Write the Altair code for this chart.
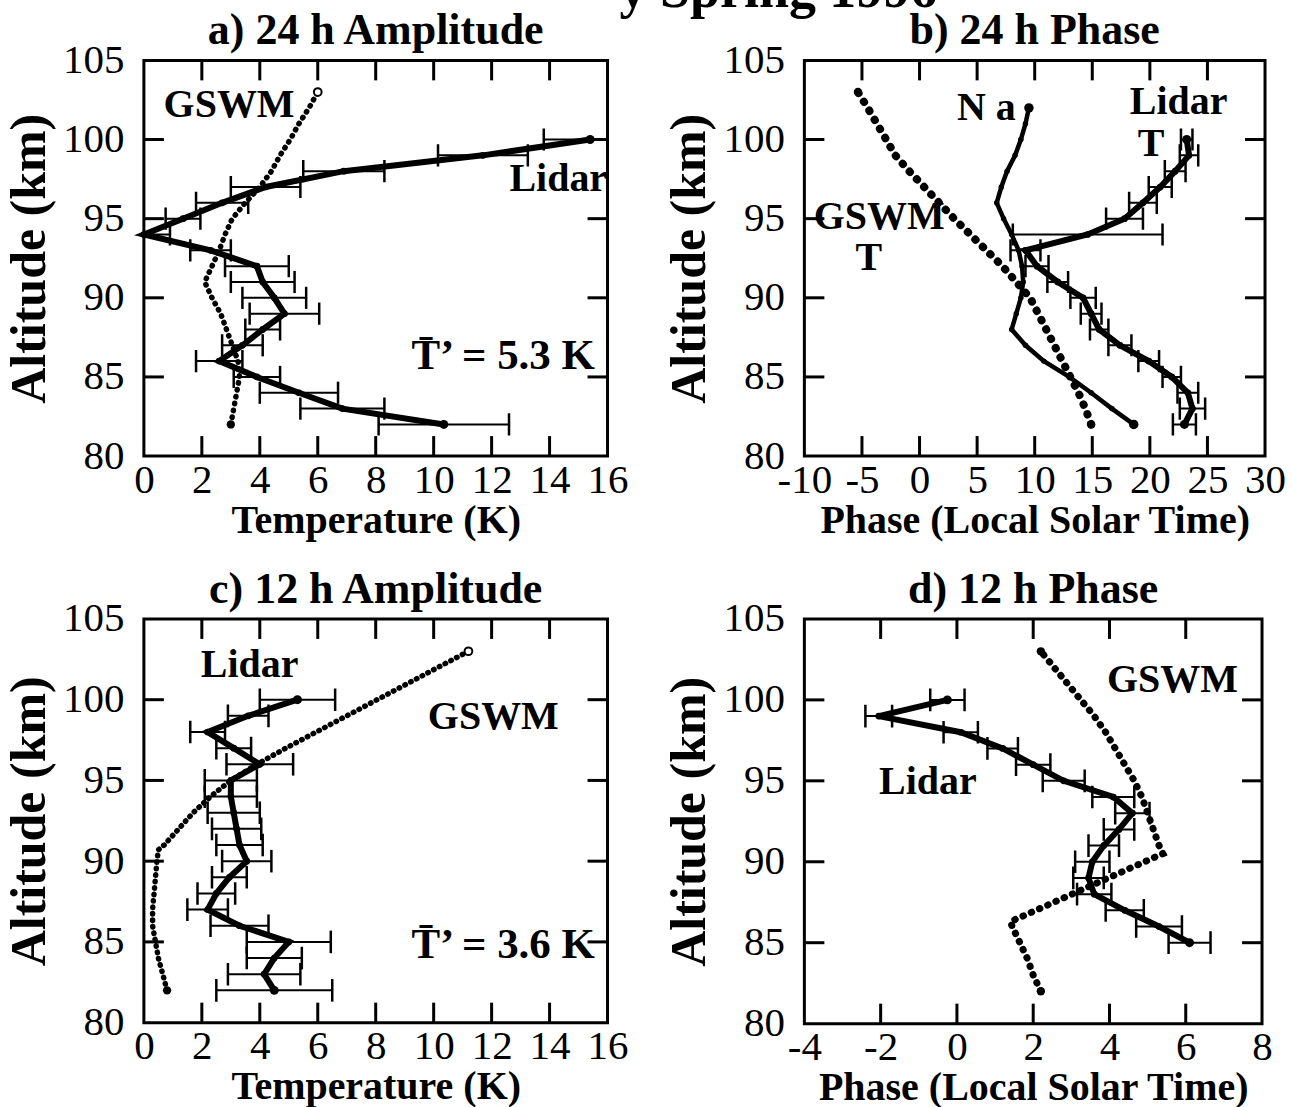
import altair as alt
import pandas as pd

FONT = "Liberation Serif"

# ---------------- a) 24 h amplitude (K) ----------------
A_GSWM_ALT = [82, 83, 84, 85, 86, 87, 88, 89, 90, 91, 92, 93, 94, 95, 96, 97, 98, 99, 100, 101, 102, 103]
A_GSWM_T = [3.0, 3.1, 3.2, 3.3, 3.25, 3.05, 2.85, 2.65, 2.35, 2.1, 2.35, 2.6, 2.8, 3.05, 3.5, 4.0, 4.4, 4.7, 5.05, 5.35, 5.7, 6.0]
A_LID_ALT = list(range(82, 101))
A_LID_T = [10.35, 6.85, 5.35, 3.9, 2.6, 3.4, 4.1, 4.85, 4.5, 4.1, 3.9, 2.3, 0.0, 1.35, 2.7, 4.2, 6.9, 11.7, 15.4]
A_LID_ERR = [2.25, 1.45, 1.35, 0.8, 0.8, 0.7, 0.6, 1.2, 1.1, 1.1, 1.1, 0.7, 0.9, 0.6, 0.9, 1.2, 1.4, 1.55, 1.6]

# ---------------- b) 24 h phase (local solar time) ----------------
B_GSWM_ALT = list(range(82, 104))
B_GSWM_PH = [14.9, 14.4, 13.8, 13.1, 12.4, 11.7, 11.0, 10.3, 9.6, 8.4, 7.2, 5.8, 4.4, 3.0, 1.7, 0.4, -0.9, -2.1, -2.9, -3.7, -4.5, -5.35]
B_NA_ALT = list(range(82, 103))
B_NA_PH = [18.6, 16.7, 14.9, 13.0, 10.8, 9.2, 8.0, 8.4, 8.8, 9.0, 8.9, 8.6, 8.0, 7.3, 6.7, 7.1, 7.6, 8.3, 8.8, 9.2, 9.5]
B_LID_ALT = list(range(82, 101))
B_LID_PH = [23.0, 23.7, 23.3, 21.9, 19.9, 17.4, 15.6, 14.9, 14.2, 12.0, 10.2, 9.2, 14.6, 17.8, 19.4, 20.9, 22.2, 23.4, 23.2]
B_LID_ERR = [1.0, 1.1, 0.9, 0.8, 0.9, 1.0, 0.8, 0.9, 1.1, 0.9, 1.0, 1.3, 6.5, 1.6, 1.2, 1.0, 0.9, 0.8, 0.5]

# ---------------- c) 12 h amplitude (K) ----------------
C_GSWM_ALT = [82, 83, 84, 85, 86, 87, 88, 89, 90, 90.7, 91, 92, 93, 94, 95, 96, 97, 98, 99, 100, 101, 102, 103]
C_GSWM_T = [0.8, 0.65, 0.5, 0.4, 0.3, 0.3, 0.35, 0.4, 0.45, 0.5, 0.7, 1.2, 1.7, 2.3, 3.0, 3.9, 4.9, 5.95, 7.0, 8.05, 9.1, 10.15, 11.2]
C_LID_ALT = list(range(82, 101))
C_LID_T = [4.5, 4.15, 4.5, 5.0, 3.3, 2.2, 2.5, 2.95, 3.55, 3.3, 3.2, 3.1, 3.0, 3.0, 4.0, 3.1, 2.2, 3.6, 5.3]
C_LID_ERR = [2.0, 1.25, 0.95, 1.45, 1.0, 0.7, 0.65, 0.6, 0.85, 0.8, 0.85, 0.9, 0.9, 0.9, 1.15, 0.6, 0.6, 0.7, 1.3]

# ---------------- d) 12 h phase (local solar time) ----------------
D_GSWM_ALT = [82, 83, 84, 85, 86, 86.3, 87, 88, 89, 90, 90.5, 91, 92, 93, 94, 95, 96, 97, 98, 99, 100, 101, 102, 103]
D_GSWM_PH = [2.2, 2.0, 1.85, 1.65, 1.45, 1.4, 2.07, 3.02, 3.97, 4.92, 5.4, 5.3, 5.15, 5.0, 4.85, 4.65, 4.4, 4.15, 3.9, 3.6, 3.25, 2.9, 2.55, 2.2]
D_LID_ALT = list(range(85, 101))
D_LID_PH = [6.1, 5.3, 4.4, 3.6, 3.45, 3.55, 3.85, 4.25, 4.6, 4.1, 2.8, 2.0, 1.2, 0.1, -2.05, -0.25]
D_LID_ERR = [0.55, 0.6, 0.5, 0.45, 0.4, 0.45, 0.4, 0.4, 0.45, 0.55, 0.55, 0.45, 0.4, 0.45, 0.35, 0.45]

ALT_TICKS = [80, 85, 90, 95, 100, 105]
TEMP_TICKS = [0, 2, 4, 6, 8, 10, 12, 14, 16]
PH24_TICKS = [-10, -5, 0, 5, 10, 15, 20, 25, 30]
PH12_TICKS = [-4, -2, 0, 2, 4, 6, 8]

SUPTITLE = "y Spring 1996"

CAP = 0.7  # half-height of the error-bar caps, km
TICK_LEN = 20


def profile(alt_vals, x_vals, err=None):
    df = pd.DataFrame({"alt": alt_vals, "x": x_vals})
    if err is not None:
        df["lo"] = df["x"] - pd.Series(err)
        df["hi"] = df["x"] + pd.Series(err)
        df["c0"] = df["alt"] - CAP
        df["c1"] = df["alt"] + CAP
    return df


def panel(title, xdom, xticks, xtitle, w, h, lidar, dotted, solid=None,
          labels=(), dot_dash=(0.5, 7), dot_width=5, open_top=False):
    xs = alt.Scale(domain=xdom, nice=False, zero=False)
    ys = alt.Scale(domain=[80, 105], nice=False, zero=False)
    # plain hyphen for negative tick labels
    x_axis = alt.Axis(values=xticks, title=xtitle, labelPadding=4, titlePadding=0,
                      labelFlush=False, labelOverlap=False, labelExpr="'' + datum.value")
    y_axis = alt.Axis(values=ALT_TICKS, title="Altitude (km)", labelPadding=20,
                      titlePadding=8, titleFontSize=50, labelFlush=False, labelOverlap=False)

    def X(f, **kw):
        return alt.X(f, type="quantitative", scale=xs, axis=x_axis, **kw)

    def Y(f, **kw):
        return alt.Y(f, type="quantitative", scale=ys, axis=y_axis, **kw)

    layers = []

    # model curve drawn as a chain of dots
    layers.append(alt.Chart(dotted).mark_line(
        color="black", strokeWidth=dot_width, strokeCap="round", strokeDash=list(dot_dash)).encode(
        x=X("x"), y=Y("alt"), order="alt:Q"))
    ends = dotted.iloc[[0]] if open_top else dotted.iloc[[0, -1]]
    layers.append(alt.Chart(ends).mark_point(filled=True, color="black", size=70, opacity=1).encode(
        x=X("x"), y=Y("alt")))
    if open_top:
        layers.append(alt.Chart(dotted.iloc[[-1]]).mark_point(
            shape="circle", fill="white", stroke="black", strokeWidth=2, size=60, opacity=1).encode(
            x=X("x"), y=Y("alt")))

    if solid is not None:
        layers.append(alt.Chart(solid).mark_line(color="black", strokeWidth=4.5).encode(
            x=X("x"), y=Y("alt"), order="alt:Q"))
        layers.append(alt.Chart(solid).mark_circle(color="black", size=30, opacity=1).encode(
            x=X("x"), y=Y("alt")))
        layers.append(alt.Chart(solid.iloc[[0, -1]]).mark_circle(color="black", size=90, opacity=1).encode(
            x=X("x"), y=Y("alt")))

    # measured profile with error bars
    layers.append(alt.Chart(lidar).mark_rule(color="black", strokeWidth=2, clip=True).encode(
        x=X("lo"), x2="hi", y=Y("alt")))
    for side in ("lo", "hi"):
        layers.append(alt.Chart(lidar).mark_rule(color="black", strokeWidth=2.5, clip=True).encode(
            x=X(side), y=Y("c0"), y2="c1"))
    layers.append(alt.Chart(lidar).mark_line(color="black", strokeWidth=6).encode(
        x=X("x"), y=Y("alt"), order="alt:Q"))
    layers.append(alt.Chart(lidar).mark_circle(color="black", size=45, opacity=1).encode(
        x=X("x"), y=Y("alt")))
    layers.append(alt.Chart(lidar.iloc[[0, -1]]).mark_circle(color="black", size=80, opacity=1).encode(
        x=X("x"), y=Y("alt")))

    # annotations
    if labels:
        lab = pd.DataFrame(labels, columns=["x", "alt", "text", "fs"])
        layers.append(alt.Chart(lab).mark_text(font=FONT, fontWeight="bold",
                                               color="black", align="center", baseline="middle").encode(
            x=X("x"), y=Y("alt"), text="text:N",
            size=alt.Size("fs:Q", scale=None, legend=None)))

    # inward tick marks on all four sides
    xt = pd.DataFrame({"x": xticks[1:-1]})
    yt = pd.DataFrame({"alt": ALT_TICKS[1:-1]})
    tk = dict(color="black", strokeWidth=3)
    layers += [
        alt.Chart(xt).mark_rule(**tk).encode(x=X("x"), y=alt.value(h), y2=alt.value(h - TICK_LEN)),
        alt.Chart(xt).mark_rule(**tk).encode(x=X("x"), y=alt.value(0), y2=alt.value(TICK_LEN)),
        alt.Chart(yt).mark_rule(**tk).encode(y=Y("alt"), x=alt.value(0), x2=alt.value(TICK_LEN)),
        alt.Chart(yt).mark_rule(**tk).encode(y=Y("alt"), x=alt.value(w - TICK_LEN), x2=alt.value(w)),
    ]

    return alt.layer(*layers).properties(
        width=w, height=h,
        title=alt.TitleParams(title, anchor="middle", offset=-14))


TBAR = "T\u0304\u2019"

pa = panel("a) 24 h Amplitude", [0, 16], TEMP_TICKS, "Temperature (K)", 464, 396,
           profile(A_LID_ALT, A_LID_T, A_LID_ERR), profile(A_GSWM_ALT, A_GSWM_T),
           labels=[(2.94, 102.2, "GSWM", 40), (14.3, 97.5, "Lidar", 40),
                   (12.4, 86.3, TBAR + " = 5.3 K", 43)],
           dot_dash=(0.5, 6.5), dot_width=5.5, open_top=True)

pb = panel("b) 24 h Phase", [-10, 30], PH24_TICKS, "Phase (Local Solar Time)", 461, 396,
           profile(B_LID_ALT, B_LID_PH, B_LID_ERR), profile(B_GSWM_ALT, B_GSWM_PH),
           solid=profile(B_NA_ALT, B_NA_PH),
           labels=[(5.8, 102.0, "N a", 40), (22.5, 102.4, "Lidar", 40), (20.1, 99.7, "T", 40),
                   (-3.5, 95.1, "GSWM", 40), (-4.4, 92.5, "T", 40)],
           dot_dash=(0.5, 10), dot_width=8)

pc = panel("c) 12 h Amplitude", [0, 16], TEMP_TICKS, "Temperature (K)", 464, 404,
           profile(C_LID_ALT, C_LID_T, C_LID_ERR), profile(C_GSWM_ALT, C_GSWM_T),
           labels=[(3.65, 102.15, "Lidar", 40), (12.06, 98.9, "GSWM", 40),
                   (12.4, 84.8, TBAR + " = 3.6 K", 43)],
           dot_dash=(0.5, 6), dot_width=5.5, open_top=True)

pd_ = panel("d) 12 h Phase", [-4, 8], PH12_TICKS, "Phase (Local Solar Time)", 458, 405,
            profile(D_LID_ALT, D_LID_PH, D_LID_ERR), profile(D_GSWM_ALT, D_GSWM_PH),
            labels=[(5.65, 101.2, "GSWM", 40), (-0.76, 94.9, "Lidar", 40)],
            dot_dash=(0.5, 8.5), dot_width=7)

chart = alt.concat(
    pa, pb, pc, pd_, columns=2, bounds="flush",
    spacing={"row": 163, "column": 197},
).properties(
    title=alt.TitleParams(SUPTITLE, anchor="start", frame="group", dx=476, offset=-53,
                          baseline="alphabetic", fontSize=54),
    padding={"left": 3, "top": -37, "right": 5, "bottom": 5},
    background="white",
).configure_view(
    stroke="black", strokeWidth=3
).configure_axis(
    labelFont=FONT, labelFontSize=41, labelColor="black",
    titleFont=FONT, titleFontSize=40, titleFontWeight="bold", titleColor="black",
    grid=False, ticks=False, domain=False,
).configure_title(
    font=FONT, fontSize=44, fontWeight="bold", color="black"
)

chart.save("out.html", embed_options={"renderer": "svg", "actions": False})
